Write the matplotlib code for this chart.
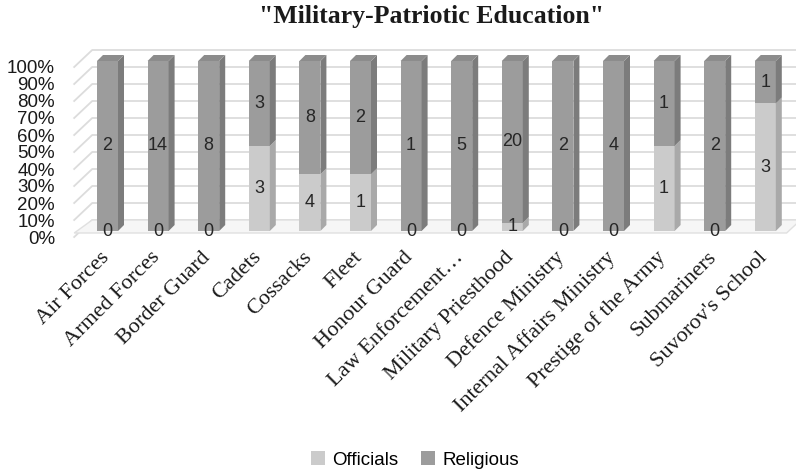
import matplotlib
matplotlib.use("Agg")
import matplotlib.pyplot as plt
from matplotlib.patches import Polygon, Rectangle, Patch
from matplotlib.transforms import ScaledTranslation

categories = ["Air Forces", "Armed Forces", "Border Guard", "Cadets", "Cossacks",
              "Fleet", "Honour Guard", "Law Enforcement…", "Military Priesthood",
              "Defence Ministry", "Internal Affairs Ministry", "Prestige of the Army",
              "Submariners", "Suvorov's School"]
officials = [0, 0, 0, 3, 4, 1, 0, 0, 1, 0, 0, 1, 0, 3]
religious = [2, 14, 8, 3, 8, 2, 1, 5, 20, 2, 4, 1, 2, 1]
series_names = ["Officials", "Religious"]
ytick_vals = [0, 0.1, 0.2, 0.3, 0.4, 0.5, 0.6, 0.7, 0.8, 0.9, 1.0]
ytick_labels = ["0%", "10%", "20%", "30%", "40%", "50%", "60%", "70%", "80%", "90%", "100%"]
title = '"Military-Patriotic Education"'

W, H = 796, 473
fig = plt.figure(figsize=(W / 100, H / 100), dpi=100)
ax_l, ax_r, ax_t, ax_b = 82.2, 790.6, 61, 231
ax = fig.add_axes([ax_l / W, 1 - ax_b / H, (ax_r - ax_l) / W, (ax_b - ax_t) / H])
n = len(categories)
ax.set_xlim(-0.5, n - 0.5)
ax.set_ylim(0, 1)
ppx = (ax_r - ax_l) / n
ppy = (ax_b - ax_t)


def px_x(p):
    return p / ppx


def px_y(p):
    return p / ppy


for s in ax.spines.values():
    s.set_visible(False)

# back wall gridlines & left wall diagonals
grid_c = "#dcdcdc"
bx, by = 10, 11   # back wall offset (px)
lx, ly = -8, -6   # front (label) plane offset (px)
x0, x1 = -0.5, n - 0.5
for v in ytick_vals:
    xs = [x0 + px_x(lx), x0 + px_x(bx), x1 + px_x(bx)]
    ys = [v + px_y(ly), v + px_y(by), v + px_y(by)]
    ax.plot(xs, ys, color=grid_c, lw=1.3, clip_on=False, zorder=0)
# floor
floor = Polygon([(x0 + px_x(lx), px_y(-2)), (x1 - px_x(4), px_y(-2)),
                 (x1 + px_x(bx), px_y(by)), (x0 + px_x(bx), px_y(by))],
                closed=True, facecolor="#f6f6f6", edgecolor="#e0e0e0", lw=1.0,
                clip_on=False, zorder=0.5)
ax.add_patch(floor)

# bars
w = px_x(21)
dx, dy = px_x(6), px_y(6)
cols = {"Officials": ("#cbcbcb", "#a9a9a9", "#b8b8b8"),
        "Religious": ("#9c9c9c", "#7c7c7c", "#8c8c8c")}
lab_c = "#262626"
for i in range(n):
    tot = officials[i] + religious[i]
    fo = officials[i] / tot
    segs = [("Officials", 0.0, fo, officials[i]), ("Religious", fo, 1.0, religious[i])]
    for name, y0, y1, val in segs:
        front, side, top = cols[name]
        if y1 - y0 > 0:
            ax.add_patch(Rectangle((i - w / 2, y0), w, y1 - y0, facecolor=front,
                                   edgecolor="none", clip_on=False, zorder=2))
            ax.add_patch(Polygon([(i + w / 2, y0), (i + w / 2, y1),
                                  (i + w / 2 + dx, y1 + dy), (i + w / 2 + dx, y0 + dy)],
                                 closed=True, facecolor=side, edgecolor="none",
                                 clip_on=False, zorder=2))
            if y1 >= 1.0:
                ax.add_patch(Polygon([(i - w / 2, y1), (i + w / 2, y1),
                                      (i + w / 2 + dx, y1 + dy), (i - w / 2 + dx, y1 + dy)],
                                     closed=True, facecolor=top, edgecolor="none",
                                     clip_on=False, zorder=2))
        ymid = (y0 + y1) / 2
        ax.text(i, ymid, str(val), ha="center", va="center", fontsize=13,
                family="Liberation Sans", color=lab_c, zorder=5, clip_on=False)

# y ticks
ax.set_yticks(ytick_vals)
ax.set_yticklabels(ytick_labels, family="Liberation Sans", fontsize=13.5, color="#1a1a1a")
ax.tick_params(axis="y", length=0, pad=19.5)
for t in ax.get_yticklabels():
    t.set_transform(t.get_transform() + ScaledTranslation(0, -0.06, fig.dpi_scale_trans))

# x ticks
ax.set_xticks(range(n))
ax.set_xticklabels(categories, rotation=45, ha="right", va="center",
                   rotation_mode="anchor", family="Liberation Serif", fontsize=16,
                   color="#1a1a1a")
ax.tick_params(axis="x", length=0, pad=17)
for t in ax.get_xticklabels():
    t.set_transform(t.get_transform() + ScaledTranslation(-0.01, 0, fig.dpi_scale_trans))

# title
fig.text(431 / W, 1 - 16 / H, title, ha="center", va="center", family="Liberation Serif",
         fontweight="bold", fontsize=18.5, color="#1a1a1a")

# legend
handles = [Patch(facecolor=cols[s][0], edgecolor="none") for s in series_names]
fig.legend(handles, series_names, loc="center", bbox_to_anchor=(415 / W, 1 - 460 / H),
           ncol=2, frameon=False, prop={"family": "Liberation Sans", "size": 13.5},
           handlelength=0.75, handleheight=0.75, handletextpad=0.4, columnspacing=1.2)

fig.savefig("out.png", dpi=100)
